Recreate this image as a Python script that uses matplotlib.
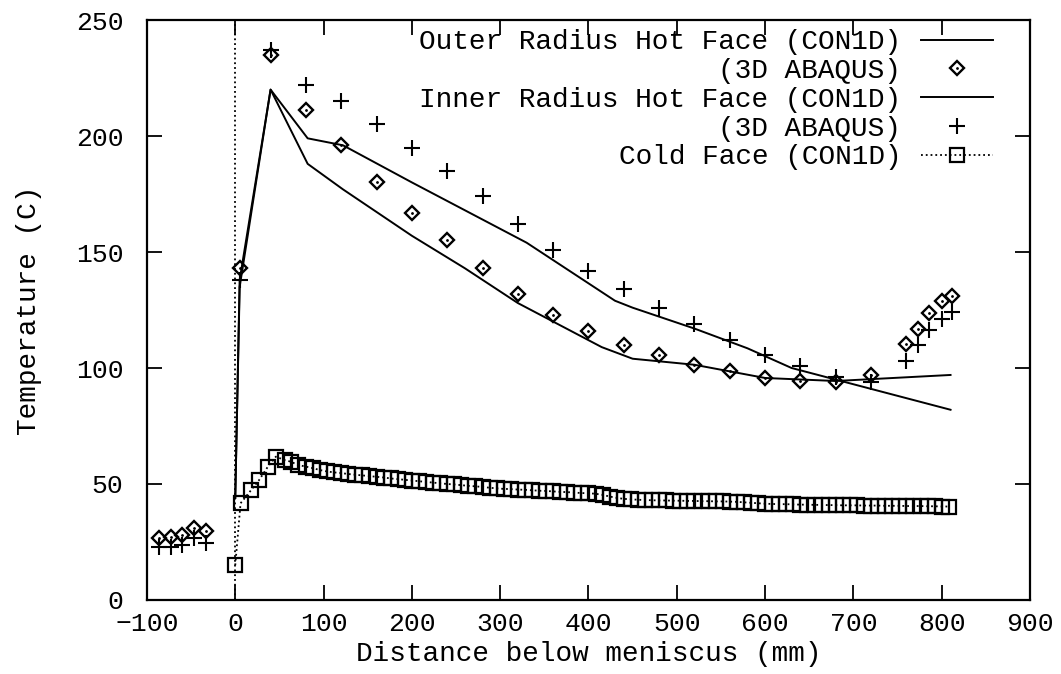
import matplotlib.pyplot as plt

plt.rcParams['font.family'] = ['Liberation Mono', 'DejaVu Sans Mono']

# CON1D hot face curves (distance mm, temperature C)
outer_x = [0, 5, 40, 82, 122, 200, 260, 320, 415, 450, 520, 600, 680, 810]
outer_t = [44, 135, 220, 188, 177, 157, 143, 128, 109, 104, 101.4, 95.7, 94.4, 97]
inner_x = [0, 5, 40, 82, 122, 200, 240, 330, 430, 450, 520, 580, 630, 680, 810]
inner_t = [44, 138, 220, 199, 196, 180, 172, 154, 129, 126, 117, 108.5, 100, 95, 82]

# 3D ABAQUS points
abq_x = [-86, -73, -60, -47, -33, 5, 40, 80, 120, 160, 200, 240, 280, 320, 360,
         400, 440, 480, 520, 560, 600, 640, 680, 720, 760, 773, 786, 800, 812]
abq_outer = [26.6, 27.3, 28, 30.9, 29.9, 143, 235, 211, 196, 180, 167, 155, 143,
             132, 123, 116, 110, 105.5, 101.4, 98.5, 95.7, 94.4, 94, 97, 110.4,
             117, 123.6, 129, 131]
abq_inner = [23, 23, 23.7, 26.6, 24.7, 138, 237, 222, 215, 205, 195, 185, 174,
             162, 151, 142, 134, 126, 119, 112, 105.5, 100.8, 96, 94, 103, 110,
             116.5, 121, 124]

# cold face (CON1D)
cold_x = [0, 6, 18, 27, 37, 46, 56, 63, 71] + list(range(80, 809, 8))
cold_t = [15, 41.7, 47.4, 51.7, 57.5, 61.8, 60.3, 59.6, 58.2,
          57.5, 56.8, 56.0, 55.4, 55.0, 54.7, 54.3, 54.0, 53.7, 53.4, 53.1, 52.8,
          52.4, 52.1, 51.8, 51.5,
          51.2, 50.9, 50.6, 50.3, 50.0, 49.8, 49.5, 49.2, 49.0, 48.7, 48.4, 48.1,
          47.9, 47.8, 47.6, 47.5, 47.3, 47.1, 47.0, 46.8, 46.6, 46.5, 46.3, 46.1, 46.0,
          45.8, 45.3, 44.6, 44.0, 43.6, 43.4, 43.2, 43.1, 43.0, 42.9, 42.9, 42.8,
          42.8, 42.7, 42.7, 42.6, 42.6, 42.5, 42.5, 42.4, 42.3, 42.1, 41.9, 41.7, 41.5,
          41.4, 41.3, 41.3, 41.2, 41.1, 41.1, 41.0, 41.0, 40.9, 40.9, 40.8, 40.8, 40.8,
          40.7, 40.7, 40.7, 40.6, 40.6, 40.6, 40.5, 40.5, 40.5, 40.4, 40.4, 40.3, 40.3]

labels = ["Outer Radius Hot Face (CON1D)", "(3D ABAQUS)",
          "Inner Radius Hot Face (CON1D)", "(3D ABAQUS)", "Cold Face (CON1D)"]

fig = plt.figure(figsize=(10.61, 6.74), dpi=100)
ax = fig.add_axes([0.1385, 0.1098, 0.8323, 0.8605])

fs = 20

# meniscus marker
ax.axvline(0, color='black', ls=':', lw=1.3)

l_outer, = ax.plot(outer_x, outer_t, color='black', lw=1.4)
d_outer, = ax.plot(abq_x, abq_outer, ls='none', marker='D', ms=7.5,
                   mfc='none', mec='black', mew=1.7)
dot_outer, = ax.plot(abq_x, abq_outer, ls='none', marker='.', ms=2, color='black')
l_inner, = ax.plot(inner_x, inner_t, color='black', lw=1.4)
p_inner, = ax.plot(abq_x, abq_inner, ls='none', marker='+', ms=12,
                   color='black', mew=1.5)
cold, = ax.plot(cold_x, cold_t, color='black', ls=':', lw=1.3, marker='s',
                ms=10, mfc='none', mec='black', mew=1.6)

ax.set_xlim(-100, 900)
ax.set_ylim(0, 250)
ax.set_xticks(range(-100, 901, 100))
ax.set_yticks(range(0, 251, 50))
ax.tick_params(direction='in', length=11, width=1.3, top=True, right=True,
               labelsize=19)
ax.tick_params(axis='x', pad=9)
ax.tick_params(axis='y', pad=17)
for s in ax.spines.values():
    s.set_linewidth(1.6)

ax.set_xlabel("Distance below meniscus (mm)", fontsize=fs, labelpad=3)
ax.set_ylabel("Temperature (C)", fontsize=fs, labelpad=24)

leg = ax.legend([l_outer, (d_outer, dot_outer), l_inner, p_inner, cold], labels,
                loc='upper right', bbox_to_anchor=(0.958, 0.984),
                markerfirst=False, frameon=False, fontsize=fs,
                handlelength=2.6, handletextpad=0.7, labelspacing=0.1,
                borderpad=0, borderaxespad=0)

fig.savefig("out.png", dpi=100, facecolor='white')
